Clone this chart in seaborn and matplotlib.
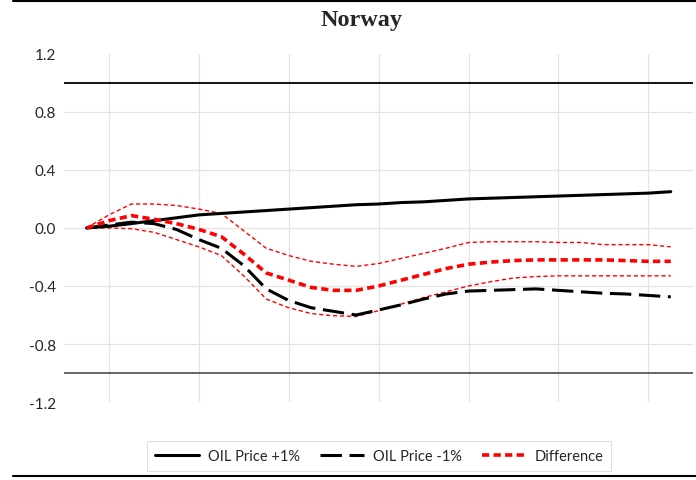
import numpy as np
import pandas as pd
import matplotlib.pyplot as plt
from matplotlib.lines import Line2D
import seaborn as sns

# quarters after the shock (0..26)
periods = list(range(27))

oil_up = [0.0, 0.012, 0.03, 0.05, 0.07, 0.09, 0.10, 0.11, 0.12, 0.13, 0.14, 0.15, 0.16,
          0.165, 0.175, 0.18, 0.19, 0.20, 0.205, 0.21, 0.215, 0.22, 0.225, 0.23, 0.235,
          0.24, 0.25]
oil_down = [0.0, 0.02, 0.04, 0.03, -0.01, -0.08, -0.14, -0.26, -0.42, -0.50, -0.55, -0.575,
            -0.60, -0.565, -0.53, -0.49, -0.455, -0.435, -0.43, -0.425, -0.42, -0.43, -0.44,
            -0.45, -0.455, -0.465, -0.475]
difference = [0.0, 0.05, 0.085, 0.06, 0.03, -0.01, -0.06, -0.18, -0.31, -0.36, -0.41, -0.43,
              -0.43, -0.40, -0.36, -0.32, -0.28, -0.25, -0.235, -0.225, -0.22, -0.22, -0.22,
              -0.22, -0.225, -0.23, -0.23]
diff_upper = [0.0, 0.09, 0.165, 0.165, 0.155, 0.13, 0.10, -0.02, -0.14, -0.19, -0.23, -0.25,
              -0.265, -0.245, -0.21, -0.175, -0.14, -0.10, -0.095, -0.095, -0.095, -0.10,
              -0.10, -0.115, -0.115, -0.115, -0.13]
diff_lower = [0.0, 0.0, -0.005, -0.03, -0.08, -0.13, -0.19, -0.33, -0.49, -0.55, -0.59, -0.605,
              -0.61, -0.57, -0.525, -0.48, -0.44, -0.40, -0.37, -0.345, -0.335, -0.33, -0.33,
              -0.33, -0.33, -0.33, -0.33]

y_ticks = [-1.2, -0.8, -0.4, 0.0, 0.4, 0.8, 1.2]

df = pd.DataFrame({"t": periods, "up": oil_up, "down": oil_down, "diff": difference,
                   "hi": diff_upper, "lo": diff_lower})

sns.set_style("white")
plt.rcParams['font.family'] = ['Lato', 'DejaVu Sans']

fig = plt.figure(figsize=(6.96, 4.81), dpi=100)
ax = fig.add_axes([0.092, 0.162, 0.904, 0.724])

sns.lineplot(data=df, x="t", y="hi", ax=ax, color="red", lw=1.0, legend=False)
ax.lines[-1].set_dashes((3, 2))
sns.lineplot(data=df, x="t", y="lo", ax=ax, color="red", lw=1.0, legend=False)
ax.lines[-1].set_dashes((3, 2))
sns.lineplot(data=df, x="t", y="up", ax=ax, color="black", lw=2.2, label="OIL Price +1%")
sns.lineplot(data=df, x="t", y="down", ax=ax, color="black", lw=2.2, label="OIL Price -1%")
ax.lines[-1].set_dashes((7, 2.5))
sns.lineplot(data=df, x="t", y="diff", ax=ax, color="red", lw=2.6, label="Difference")
ax.lines[-1].set_dashes((2, 1.2))

ax.axhline(1.0, color="black", lw=1.3, zorder=1)
ax.axhline(-1.0, color="#595959", lw=1.3, zorder=1)

ax.set_xlim(-1, 27)
ax.set_ylim(-1.2, 1.2)
ax.set_yticks(y_ticks)
ax.set_yticklabels([f"{v:.1f}" for v in y_ticks], fontsize=11, color="#262626")
ax.set_xticks([1, 5, 9, 13, 17, 21, 25])
ax.set_xticklabels([])
ax.tick_params(axis="both", length=0, pad=6)
ax.grid(True, color="#e3e3e3", lw=0.9)
ygrid = ax.yaxis.get_gridlines()
ygrid[0].set_visible(False)
ygrid[-1].set_visible(False)
for s in ax.spines.values():
    s.set_visible(False)
ax.set_xlabel("")
ax.set_ylabel("")

handles, labels = ax.get_legend_handles_labels()
ax.get_legend().remove()
leg = fig.legend(handles, labels, loc="center", bbox_to_anchor=(0.545, 0.05), ncol=3,
                 fontsize=10.5, frameon=True, fancybox=False, edgecolor="#d9d9d9",
                 handlelength=3.0, columnspacing=1.4, handletextpad=0.6, borderpad=0.55)
leg.get_frame().set_linewidth(0.8)

fig.text(0.52, 0.958, "Norway", ha="center", va="center", fontsize=17.5, fontweight="bold",
         family="Liberation Serif")

fig.add_artist(Line2D([0.019, 1.0], [0.996, 0.996], color="black", lw=1.5))
fig.add_artist(Line2D([0.019, 1.0], [0.008, 0.008], color="black", lw=1.5))

fig.savefig("out.png", dpi=100)
